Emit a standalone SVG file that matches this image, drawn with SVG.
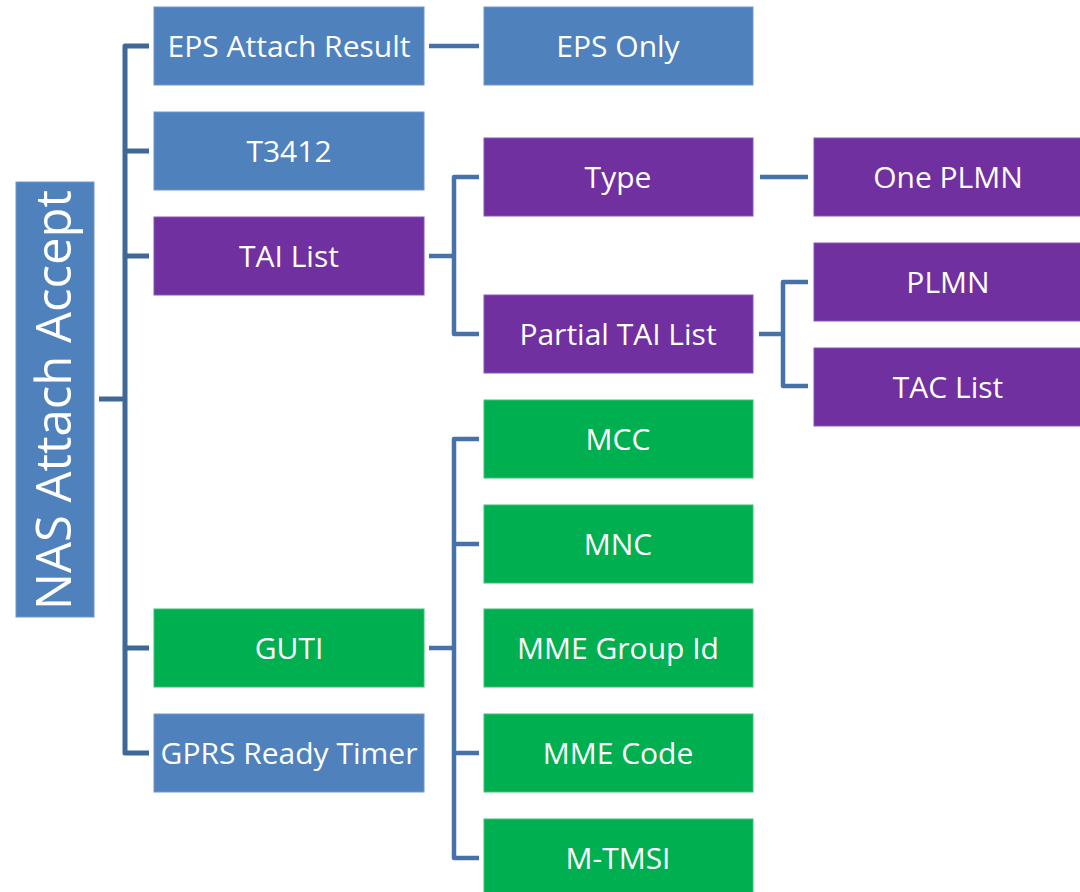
<svg xmlns="http://www.w3.org/2000/svg" width="1080" height="892" viewBox="0 0 1080 892">
<style>
.b{fill:#4f81bd;stroke:#6f97c8;stroke-width:1}
.p{fill:#7030a0;stroke:#8a55b3;stroke-width:1}
.g{fill:#00b050;stroke:#3cc078;stroke-width:1}
text{font-family:"Open Sans","Noto Sans","Liberation Sans",sans-serif;fill:#fff;font-size:30px;text-anchor:middle}
.c{fill:none;stroke:#4672a8;stroke-width:4.5;stroke-linejoin:round}
.c0{fill:none;stroke:#3f6797;stroke-width:5;stroke-linejoin:round}
</style>
<rect width="1080" height="892" fill="#fff"/>
<g id="connectors">
<path class="c0" d="M99 399H125M149 46H125V753H149M125 151H149M125 256H149M125 648H149"/>
<path class="c" d="M429 46H479"/>
<path class="c" d="M429 256H454M479 177H454V334H479"/>
<path class="c" d="M760 177H808"/>
<path class="c" d="M759 334H783M808 282H783V386H808"/>
<path class="c" d="M429 648H454M479 439H454V858H479M454 544H479M454 753H479"/>
</g>
<g id="root"><rect class="b" x="16" y="182" width="78" height="435"/><text transform="translate(71,400) rotate(-90)" style="font-size:50px" textLength="420" lengthAdjust="spacingAndGlyphs">NAS Attach Accept</text></g>
<g id="eps-attach-result"><rect class="b" x="154" y="7" width="270" height="78"/><text x="289" y="57">EPS Attach Result</text></g>
<g id="t3412"><rect class="b" x="154" y="112" width="270" height="78"/><text x="289" y="162">T3412</text></g>
<g id="tai-list"><rect class="p" x="154" y="217" width="270" height="78"/><text x="289" y="267">TAI List</text></g>
<g id="guti"><rect class="g" x="154" y="609" width="270" height="78"/><text x="289" y="659">GUTI</text></g>
<g id="gprs-ready-timer"><rect class="b" x="154" y="714" width="270" height="78"/><text x="289" y="764">GPRS Ready Timer</text></g>
<g id="eps-only"><rect class="b" x="484" y="7" width="269" height="78"/><text x="618" y="57">EPS Only</text></g>
<g id="type"><rect class="p" x="484" y="138" width="269" height="78"/><text x="618" y="188">Type</text></g>
<g id="partial-tai-list"><rect class="p" x="484" y="295" width="269" height="78"/><text x="618" y="345">Partial TAI List</text></g>
<g id="mcc"><rect class="g" x="484" y="400" width="269" height="78"/><text x="618" y="450">MCC</text></g>
<g id="mnc"><rect class="g" x="484" y="505" width="269" height="78"/><text x="618" y="555">MNC</text></g>
<g id="mme-group-id"><rect class="g" x="484" y="609" width="269" height="78"/><text x="618" y="659">MME Group Id</text></g>
<g id="mme-code"><rect class="g" x="484" y="714" width="269" height="78"/><text x="618" y="764">MME Code</text></g>
<g id="m-tmsi"><rect class="g" x="484" y="819" width="269" height="78"/><text x="618" y="869">M-TMSI</text></g>
<g id="one-plmn"><rect class="p" x="814" y="138" width="270" height="78"/><text x="948" y="188">One PLMN</text></g>
<g id="plmn"><rect class="p" x="814" y="243" width="270" height="78"/><text x="948" y="293">PLMN</text></g>
<g id="tac-list"><rect class="p" x="814" y="348" width="270" height="78"/><text x="948" y="398">TAC List</text></g>
</svg>
